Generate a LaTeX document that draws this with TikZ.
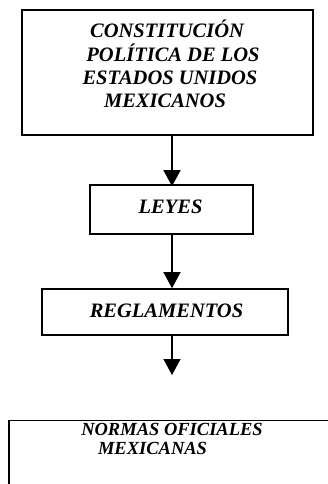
\documentclass[tikz,border=0pt]{standalone}
\usepackage{fontspec}
\setmainfont{Liberation Serif}
\usetikzlibrary{arrows.meta}
\begin{document}
\begin{tikzpicture}[x=1pt,y=-1pt,
  boxthick/.style={draw=black,line width=2.4pt,inner sep=0pt},
  boxthin/.style={draw=black,line width=1.6pt,inner sep=0pt},
  ttxt/.style={inner sep=0pt,anchor=base,font=\fontsize{20.5}{23}\selectfont\bfseries\itshape},
  ntxt/.style={inner sep=0pt,anchor=base,font=\fontsize{18.5}{21}\selectfont\bfseries\itshape},
  flow/.style={line width=1.3pt,-{Triangle[width=17pt,length=16pt]}}]
\useasboundingbox (0,0) rectangle (328,484);
\fill[white] (0,0) rectangle (328,484);
\clip (0,0) rectangle (328,484);
% boxes
\node[boxthick,minimum width=291pt,minimum height=125pt] (cpeum) at (167.5,72.5) {};
\node[boxthin,minimum width=163pt,minimum height=49pt] (leyes) at (171.5,209.5) {};
\node[boxthin,minimum width=246pt,minimum height=46pt] (regl) at (165,312) {};
\node[boxthin,minimum width=340pt,minimum height=100pt,anchor=north west] (nom) at (8,419.5) {};
% texts
\node[ttxt] (c1) at (167,38) {CONSTITUCIÓN};
\node[ttxt] (c2) at (173,61.5) {POLÍTICA DE LOS};
\node[ttxt] (c3) at (170,84.5) {ESTADOS UNIDOS};
\node[ttxt] (c4) at (165,107) {MEXICANOS};
\node[ttxt] (tl) at (170.5,213) {LEYES};
\node[ttxt] (tr) at (166.5,317) {REGLAMENTOS};
\node[ntxt] (n1) at (172,435.5) {NORMAS OFICIALES};
\node[ntxt] (n2) at (152.5,454) {MEXICANAS};
% connectors
\coordinate (ax) at (172,0);
\coordinate (end3) at (172,375);
\draw[flow] (cpeum.south -| ax) -- ([yshift=-2pt]leyes.north -| ax);
\draw[flow] (leyes.south -| ax) -- (regl.north -| ax);
\draw[flow] (regl.south -| ax) -- (end3);
\end{tikzpicture}
\end{document}
